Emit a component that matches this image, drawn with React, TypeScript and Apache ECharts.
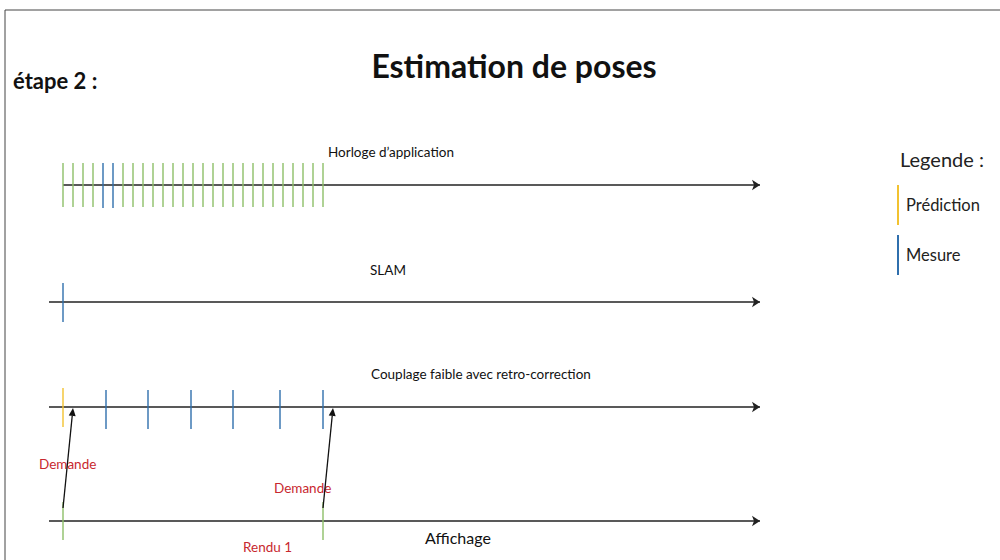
import React, { useEffect, useRef } from "react";
import * as echarts from "echarts";

// Time axis: one application-clock period = 1 unit
const clockTicks = [0, 1, 2, 3, 6, 7, 8, 9, 10, 11, 12, 13, 14, 15, 16, 17, 18, 19, 20, 21, 22, 23, 24, 25, 26];
const clockMeasureTicks = [4, 5];
const slamMeasureTicks = [0];
const couplingPredictionTicks = [0];
const couplingMeasureTicks = [4.3, 8.5, 12.8, 17.0, 21.7, 26.0];
const displayTicks = [0, 26];
const requestArrows = [
  [0, 1.0],
  [26, 27.0],
];
const timelineStart = -1.4;
const clockStart = 0;
const timelineEnd = 69.7;

const rowLabels = ["Horloge d\u2019application", "SLAM", "Couplage faible avec retro-correction", "Affichage"];
const legendItems = ["Pr\u00e9diction", "Mesure"];

// layout (pixel rows)
const ROW_CLOCK = 185;
const ROW_SLAM = 302;
const ROW_COUPLING = 407;
const ROW_DISPLAY = 521;

const GREEN = "#8dbf68";
const BLUE = "#2f6fad";
const YELLOW = "#f2c230";
const RED = "#c8282f";
const FONT = "Lato, 'Open Sans', sans-serif";

function tickSeries(name: string, times: number[], row: number, up: number, down: number, color: string, width = 1.4) {
  return {
    type: "custom",
    name,
    data: times.map((t) => [t, row]),
    itemStyle: { color },
    renderItem: (_p: any, api: any) => {
      const p = api.coord([api.value(0), api.value(1)]);
      return {
        type: "line",
        shape: { x1: p[0], y1: p[1] - up, x2: p[0], y2: p[1] + down },
        style: { stroke: color, lineWidth: width },
      };
    },
    z: 3,
  };
}

export default function App() {
  const ref = useRef<HTMLDivElement>(null);
  useEffect(() => {
    if (!ref.current) return;
    const chart = echarts.init(ref.current, undefined, { renderer: "svg" });
    const axisLine = (start: number, row: number) => ({ coords: [[start, row], [timelineEnd, row]] });
    const option: any = {
      animation: false,
      backgroundColor: "#ffffff",
      grid: { left: 0, right: 0, top: 0, bottom: 0 },
      xAxis: { type: "value", min: -6.3, max: 93.7, show: false },
      yAxis: { type: "value", min: 0, max: 560, inverse: true, show: false },
      legend: {
        data: legendItems,
        orient: "vertical",
        left: 897,
        top: 185,
        padding: 0,
        icon: "rect",
        itemWidth: 2,
        itemHeight: 40,
        itemGap: 10,
        textStyle: { fontFamily: FONT, fontSize: 16.5, color: "#222", padding: [0, 0, 4, 2] },
        selectedMode: false,
      },
      series: [
        {
          type: "lines",
          coordinateSystem: "cartesian2d",
          polyline: false,
          symbol: ["none", "arrow"],
          symbolSize: 8,
          lineStyle: { color: "#222", width: 1.5, opacity: 1 },
          data: [
            axisLine(clockStart, ROW_CLOCK),
            axisLine(timelineStart, ROW_SLAM),
            axisLine(timelineStart, ROW_COUPLING),
            axisLine(timelineStart, ROW_DISPLAY),
          ],
          z: 2,
        },
        tickSeries("Horloge", clockTicks, ROW_CLOCK, 22, 22, GREEN),
        tickSeries("Mesure", clockMeasureTicks, ROW_CLOCK, 22, 23, BLUE),
        tickSeries("Mesure", slamMeasureTicks, ROW_SLAM, 19, 20, BLUE),
        tickSeries("Pr\u00e9diction", couplingPredictionTicks, ROW_COUPLING, 19, 20, YELLOW),
        tickSeries("Mesure", couplingMeasureTicks, ROW_COUPLING, 17, 22, BLUE),
        tickSeries("Affichage", displayTicks, ROW_DISPLAY, 19, 19, GREEN),
        {
          type: "custom",
          name: "Demande",
          data: requestArrows.map(([a, b]) => [a, b]),
          renderItem: (_p: any, api: any) => {
            const s = api.coord([api.value(0), ROW_DISPLAY]);
            const e = api.coord([api.value(1), ROW_COUPLING]);
            const x1 = s[0], y1 = s[1] - 13;
            const x2 = e[0], y2 = e[1] + 1;
            const dx = x2 - x1, dy = y2 - y1;
            const len = Math.sqrt(dx * dx + dy * dy);
            const ux = dx / len, uy = dy / len;
            const hl = 8, hw = 3.5;
            const bx = x2 - ux * hl, by = y2 - uy * hl;
            return {
              type: "group",
              children: [
                { type: "line", shape: { x1, y1, x2: bx, y2: by }, style: { stroke: "#111", lineWidth: 1.3 } },
                {
                  type: "polygon",
                  shape: { points: [[x2, y2], [bx - uy * hw, by + ux * hw], [bx + uy * hw, by - ux * hw]] },
                  style: { fill: "#111" },
                },
              ],
            };
          },
          z: 4,
        },
      ],
      graphic: [
        { type: "rect", shape: { x: 5, y: 10, width: 1000, height: 560 }, style: { fill: "none", stroke: "#444", lineWidth: 1 }, silent: true },
        { type: "text", x: 514, y: 65, style: { text: "Estimation de poses", fontFamily: FONT, fontWeight: "bold", fontSize: 32, fill: "#111", align: "center", verticalAlign: "middle" } },
        { type: "text", x: 13, y: 80, style: { text: "\u00e9tape 2 :", fontFamily: FONT, fontWeight: "bold", fontSize: 22, fill: "#111", align: "left", verticalAlign: "middle" } },
        { type: "text", x: 328, y: 152, style: { text: rowLabels[0], fontFamily: FONT, fontSize: 13.5, fill: "#111", align: "left", verticalAlign: "middle" } },
        { type: "text", x: 370, y: 270, style: { text: rowLabels[1], fontFamily: FONT, fontSize: 13.5, fill: "#111", align: "left", verticalAlign: "middle" } },
        { type: "text", x: 371, y: 374, style: { text: rowLabels[2], fontFamily: FONT, fontSize: 13.5, fill: "#111", align: "left", verticalAlign: "middle" } },
        { type: "text", x: 425, y: 537, style: { text: rowLabels[3], fontFamily: FONT, fontSize: 16, fill: "#111", align: "left", verticalAlign: "middle" } },
        { type: "text", x: 39, y: 464, style: { text: "Demande", fontFamily: FONT, fontSize: 13.5, fill: RED, align: "left", verticalAlign: "middle" } },
        { type: "text", x: 274, y: 488, style: { text: "Demande", fontFamily: FONT, fontSize: 13.5, fill: RED, align: "left", verticalAlign: "middle" } },
        { type: "text", x: 243, y: 547, style: { text: "Rendu 1", fontFamily: FONT, fontSize: 13.5, fill: RED, align: "left", verticalAlign: "middle" } },
        { type: "text", x: 900, y: 159, style: { text: "Legende :", fontFamily: FONT, fontSize: 20, fill: "#222", align: "left", verticalAlign: "middle" } },
      ],
    };
    chart.setOption(option);
    return () => chart.dispose();
  }, []);
  return <div ref={ref} style={{ position: "fixed", left: 0, top: 0, width: 1000, height: 560 }} />;
}
